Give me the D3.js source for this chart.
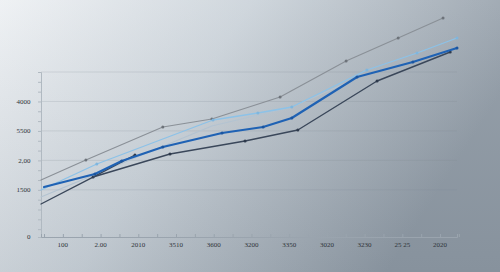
<!DOCTYPE html>
<html><head><meta charset="utf-8">
<script src="https://cdn.jsdelivr.net/npm/d3@7"></script>
<style>html,body{margin:0;padding:0;overflow:hidden;background:#d5dce2}</style>
</head><body>
<svg id="c" width="500" height="272"></svg>
<script>
// ---- data ----
const categories = ["100","2.00","2010","3510","3600","3200","3350","3020","3230","25 25","2020"];
const yTickValues = [0, 1600, 2600, 3600, 4600];
const yTickLabels = ["0", "1500", "2,00", "5500", "4000"];
const gridValues = [1600, 2600, 3600, 4600, 5600];

const grayX  = [-0.58, 0.61, 2.65, 3.95, 5.76, 7.51, 8.89, 10.08];
const grayY  = [1935, 2613, 3733, 4005, 4752, 5973, 6754, 7433];
const lightX = [-0.58, 0.90, 3.98, 5.17, 6.07, 8.06, 9.39, 10.45];
const lightY = [1595, 2478, 3971, 4209, 4412, 5668, 6245, 6754];
const faintX = [-0.58, 1.33, 3.95, 6.07, 7.69];
const faintY = [1358, 2376, 3767, 4412, 5329];
const blueX  = [-0.50, 0.85, 1.56, 2.65, 4.22, 5.31, 6.07, 7.80, 9.28, 10.45];
const blueY  = [1697, 2138, 2579, 3055, 3530, 3733, 4039, 5430, 5940, 6415];
const darkX  = [-0.58, 0.80, 2.84, 4.83, 6.23, 8.33, 10.27];
const darkY  = [1120, 2036, 2817, 3258, 3632, 5295, 6279];
const steepX = [0.80, 1.91];
const steepY = [2036, 2783];

const series = [
  {x: faintX, y: faintY, color: "#b3c3d1", w: 1.1, markers: false},
  {x: grayX,  y: grayY,  color: "#8a9097", w: 1.1, markers: true, mc: "#6d737a"},
  {x: lightX, y: lightY, color: "#8cc2e8", w: 1.3, markers: true, mc: "#7fb6de"},
  {x: darkX,  y: darkY,  color: "#3a475a", w: 1.4, markers: true, mc: "#2e3a4c"},
  {x: steepX, y: steepY, color: "#3a475a", w: 1.4, markers: true, mc: "#2e3a4c"},
  {x: blueX,  y: blueY,  color: "#1f62b4", w: 2.2, markers: true, mc: "#1a55a0"}
];

// ---- chart ----
const svg = d3.select("#c");
const defs = svg.append("defs");
const g1 = defs.append("linearGradient").attr("id","bg")
  .attr("x1","0").attr("y1","0").attr("x2","1").attr("y2","0.35");
g1.append("stop").attr("offset","0").attr("stop-color","#edf0f3");
g1.append("stop").attr("offset","0.45").attr("stop-color","#cad2d9");
g1.append("stop").attr("offset","1").attr("stop-color","#8c97a2");
svg.append("rect").attr("width",500).attr("height",272).attr("fill","url(#bg)");
const g2 = defs.append("linearGradient").attr("id","vshade")
  .attr("x1","0").attr("y1","0").attr("x2","0").attr("y2","1");
g2.append("stop").attr("offset","0").attr("stop-color","#ffffff").attr("stop-opacity",0.10);
g2.append("stop").attr("offset","1").attr("stop-color","#5a6570").attr("stop-opacity",0.10);
svg.append("rect").attr("width",500).attr("height",272).attr("fill","url(#vshade)");

const x = d3.scaleLinear().domain([-0.58, 10.45]).range([41, 457]);
const y = d3.scaleLinear().domain([0, 5600]).range([237, 72]);

// gridlines
svg.append("g").selectAll("line").data(gridValues).join("line")
  .attr("x1", x(-0.58)).attr("x2", x(10.45))
  .attr("y1", d => y(d)).attr("y2", d => y(d))
  .attr("stroke", "#7c8893").attr("stroke-opacity", 0.2).attr("stroke-width", 1);

// y axis
const yMinor = d3.range(1600 - 4000/3, 5600.1, 1000/3);
const yAxis = svg.append("g").attr("transform", `translate(${x(-0.58)},0)`)
  .call(d3.axisLeft(y).tickValues(yMinor).tickSize(3).tickFormat(""));
yAxis.select(".domain").attr("stroke", "#b0b9c1");
yAxis.selectAll(".tick line").attr("stroke", "#b0b9c1");
svg.append("g").selectAll("text").data(yTickValues).join("text")
  .attr("x", 30.5).attr("y", d => y(d)).attr("dy", "0.35em")
  .attr("text-anchor", "end")
  .style("font-family", "Liberation Serif, serif").style("font-size", "7px")
  .attr("fill", "#2f343a")
  .text((d, i) => yTickLabels[i]);

// x axis
const xMinor = d3.range(-0.5, 10.51, 0.5);
const xAxis = svg.append("g").attr("transform", `translate(0,${y(0)})`)
  .call(d3.axisBottom(x).tickValues(xMinor).tickSize(-3).tickFormat(""));
xAxis.select(".domain").attr("stroke", "#9aa4ae");
xAxis.selectAll(".tick line").attr("stroke", "#9aa4ae");
svg.append("g").selectAll("text").data(categories).join("text")
  .attr("x", (d, i) => x(i)).attr("y", 245).attr("dy", "0.35em")
  .attr("text-anchor", "middle")
  .style("font-family", "Liberation Serif, serif").style("font-size", "7px")
  .attr("fill", "#2f343a")
  .text(d => d);

// lines
const line = d3.line().x(d => x(d[0])).y(d => y(d[1]));
series.forEach(s => {
  const pts = s.x.map((v, i) => [v, s.y[i]]);
  svg.append("path").datum(pts).attr("d", line)
    .attr("fill", "none").attr("stroke", s.color).attr("stroke-width", s.w)
    .attr("stroke-linejoin", "round").attr("stroke-linecap", "round");
  if (s.markers) {
    svg.append("g").selectAll("circle").data(pts.slice(1)).join("circle")
      .attr("cx", d => x(d[0])).attr("cy", d => y(d[1]))
      .attr("r", 1.5).attr("fill", s.mc);
  }
});
</script>
</body></html>
